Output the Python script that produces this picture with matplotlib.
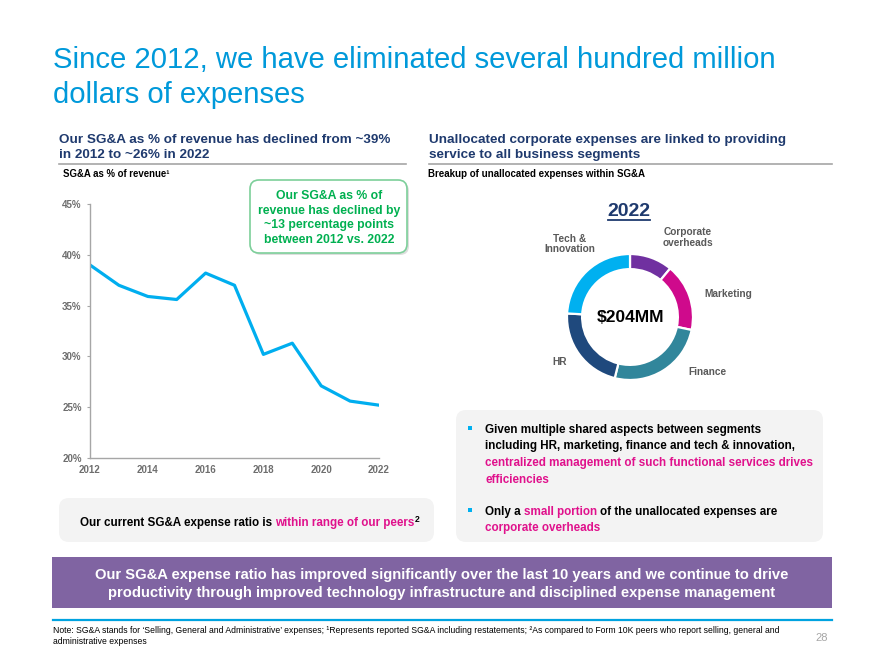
import matplotlib
matplotlib.use('Agg')
import matplotlib.pyplot as plt
from matplotlib.patches import FancyBboxPatch, Rectangle

plt.rcParams['font.family'] = ['Liberation Sans', 'DejaVu Sans']

# 数据
years = [2012, 2013, 2014, 2015, 2016, 2017, 2018, 2019, 2020, 2021, 2022]
sga_pct = [39.0, 37.0, 35.9, 35.6, 38.2, 37.0, 30.2, 31.3, 27.1, 25.6, 25.2]
y_ticks = [20, 25, 30, 35, 40, 45]
x_ticks = [2012, 2014, 2016, 2018, 2020, 2022]

segments = ['Corporate\noverheads', 'Marketing', 'Finance', 'HR', 'Tech &\nInnovation']
segment_share = [11.0, 17.3, 25.6, 22.0, 24.1]
segment_colors = ['#7030A0', '#CF0A8C', '#31869B', '#1F497D', '#00B0F0']
total_label = r'\$204MM'
donut_year = '2022'

BLUE = '#0099DA'
NAVY = '#1F3A6E'
GREEN = '#00B050'
MAGENTA = '#E0118C'
GRAY_TXT = '#6E6E6E'
BLACK = '#000000'

W, H = 880, 660
fig = plt.figure(figsize=(W / 100, H / 100), dpi=100)


def px_axes(left, top, width, height):
    return fig.add_axes([left / W, 1 - (top + height) / H, width / W, height / H])


# 覆盖层，像素坐标
ov = fig.add_axes([0, 0, 1, 1])
ov.set_xlim(0, W)
ov.set_ylim(H, 0)
ov.axis('off')
ov.set_zorder(10)


def rich_line(x, y, parts, size, weight='bold'):
    """按顺序绘制多色文本；parts = [(text, color), ...]，片段之间加一个空格。"""
    t = None
    gap = 0.278 * size
    for s, c in parts:
        if t is None:
            t = ov.text(x, y, s, color=c, fontsize=size, fontweight=weight,
                        ha='left', va='baseline')
        else:
            t = ov.annotate(s, xy=(1, 0), xycoords=t, xytext=(gap, 0),
                            textcoords='offset points', ha='left', va='bottom',
                            color=c, fontsize=size, fontweight=weight)
    return t


# 标题
ov.text(53, 68, 'Since 2012, we have eliminated several hundred million',
        color=BLUE, fontsize=21.1, va='baseline')
ov.text(53, 103, 'dollars of expenses', color=BLUE, fontsize=21.1, va='baseline')

# 两栏小标题
HS = 9.7
ov.text(59, 143, 'Our SG&A as % of revenue has declined from ~39%',
        color=NAVY, fontsize=HS, fontweight='bold', va='baseline')
ov.text(59, 158, 'in 2012 to ~26% in 2022',
        color=NAVY, fontsize=HS, fontweight='bold', va='baseline')
ov.text(429, 143, 'Unallocated corporate expenses are linked to providing',
        color=NAVY, fontsize=HS, fontweight='bold', va='baseline')
ov.text(429, 158, 'service to all business segments',
        color=NAVY, fontsize=HS, fontweight='bold', va='baseline')
ov.plot([59, 406], [163.5, 163.5], color='#A6A6A6', lw=1.2)
ov.plot([429, 832], [163.5, 163.5], color='#A6A6A6', lw=1.2)
ov.text(63, 177, 'SG&A as % of revenue\u00b9', color=BLACK, fontsize=6.95,
        fontweight='bold', va='baseline')
ov.text(428, 177, 'Breakup of unallocated expenses within SG&A', color=BLACK,
        fontsize=7.0, fontweight='bold', va='baseline')

# 折线图
ax = px_axes(90, 204, 289, 254)
ax.plot(years, sga_pct, color='#00AEEF', lw=2.3, solid_joinstyle='round')
ax.set_xlim(years[0], years[-1])
ax.set_ylim(y_ticks[0], y_ticks[-1])
ax.set_yticks(y_ticks)
ax.set_yticklabels([f'{v}%' for v in y_ticks])
ax.set_xticks(x_ticks)
ax.set_xticklabels([str(v) for v in x_ticks])
for s in ['top', 'right']:
    ax.spines[s].set_visible(False)
for s in ['left', 'bottom']:
    ax.spines[s].set_color('#A6A6A6')
    ax.spines[s].set_linewidth(1.0)
ax.tick_params(axis='y', length=2.5, width=0.8, color='#A6A6A6', pad=3.5,
               labelsize=7, labelcolor=GRAY_TXT)
ax.tick_params(axis='x', length=0, pad=5, labelsize=7, labelcolor=GRAY_TXT)
for lab in ax.get_xticklabels() + ax.get_yticklabels():
    lab.set_fontweight('bold')
ax.set_facecolor('none')

# 绿色标注框
ov.add_patch(FancyBboxPatch((252, 182), 157, 73,
                            boxstyle='round,pad=0,rounding_size=9',
                            fc='#BFBFBF', ec='none', alpha=0.5, zorder=1))
ov.add_patch(FancyBboxPatch((250, 180), 157, 73,
                            boxstyle='round,pad=0,rounding_size=9',
                            fc='white', ec='#7DCF9A', lw=1.2, zorder=2))
callout = ['Our SG&A as % of', 'revenue has declined by',
           '~13 percentage points', 'between 2012 vs. 2022']
for i, line in enumerate(callout):
    ov.text(329, 199 + i * 14.7, line, color=GREEN, fontsize=8.8,
            fontweight='bold', ha='center', va='baseline', zorder=3)

# 环形图
R_PX = 63
axd = px_axes(630 - R_PX * 1.04, 317 - R_PX * 1.04, R_PX * 2.08, R_PX * 2.08)
axd.pie(segment_share, colors=segment_colors, startangle=90, counterclock=False,
        radius=1, wedgeprops=dict(width=0.24, edgecolor='white', linewidth=1.6))
axd.set_xlim(-1.04, 1.04)
axd.set_ylim(-1.04, 1.04)
axd.set_aspect('equal')
axd.axis('off')
axd.text(0, 0, total_label, ha='center', va='center', fontsize=12.5,
         fontweight='bold', color=BLACK)

ov.text(629, 216, donut_year, color=NAVY, fontsize=14, fontweight='bold',
        ha='center', va='baseline')
ov.plot([608, 650], [220, 220], color=NAVY, lw=1.3)

label_pos = [(688, 235), (728, 297), (707, 375), (560, 365), (570, 242)]
for name, (lx, ly) in zip(segments, label_pos):
    for j, part in enumerate(name.split('\n')):
        ov.text(lx, ly + j * 10.5, part, color='#595959', fontsize=7.3,
                fontweight='bold', ha='center', va='baseline')

# 右侧要点框
ov.add_patch(FancyBboxPatch((456, 410), 367, 132,
                            boxstyle='round,pad=0,rounding_size=10',
                            fc='#F3F3F3', ec='none', zorder=0))
ov.add_patch(Rectangle((468, 426), 4, 4, fc='#00B0F0', ec='none'))
ov.add_patch(Rectangle((468, 508), 4, 4, fc='#00B0F0', ec='none'))
BS = 8.4
rich_line(485, 432.5, [('Given multiple shared aspects between segments', BLACK)], BS)
rich_line(485, 449, [('including HR, marketing, finance and tech & innovation,', BLACK)], BS)
rich_line(485, 466, [('centralized management of such functional services drives', MAGENTA)], BS)
rich_line(485, 483, [('efficiencies', MAGENTA)], BS)
rich_line(485, 514.5, [('Only a', BLACK), ('small portion', MAGENTA),
                       ('of the unallocated expenses are', BLACK)], BS)
rich_line(485, 531, [('corporate overheads', MAGENTA)], BS)

# 左下框
ov.add_patch(FancyBboxPatch((59, 498), 375, 44,
                            boxstyle='round,pad=0,rounding_size=10',
                            fc='#F3F3F3', ec='none', zorder=0))
t = rich_line(80, 526, [('Our current SG&A expense ratio is', BLACK),
                        ('within range of our peers', MAGENTA)], BS)
ov.annotate('2', xy=(1, 0.45), xycoords=t, xytext=(0.2, 0),
            textcoords='offset points', ha='left', va='bottom',
            color=BLACK, fontsize=6.2, fontweight='bold')

# 紫色横幅
BN = 10.65
ov.add_patch(Rectangle((52, 557), 780, 51, fc='#8064A2', ec='none'))
ov.text(442, 579.5, 'Our SG&A expense ratio has improved significantly over the last 10 years and we continue to drive',
        color='white', fontsize=BN, fontweight='bold', ha='center', va='baseline')
ov.text(442, 596.5, 'productivity through improved technology infrastructure and disciplined expense management',
        color='white', fontsize=BN, fontweight='bold', ha='center', va='baseline')

# 脚注
ov.plot([53, 832], [620, 620], color='#00A3E0', lw=1.6)
ov.text(53, 633, 'Note: SG&A stands for \u2018Selling, General and Administrative\u2019 expenses; '
        '\u00b9Represents reported SG&A including restatements; '
        '\u00b2As compared to Form 10K peers who report selling, general and',
        color=BLACK, fontsize=6.2, va='baseline')
ov.text(53, 644, 'administrative expenses', color=BLACK, fontsize=6.2, va='baseline')
ov.text(822, 641, '28', color='#A6A6A6', fontsize=8, ha='center', va='baseline')

fig.savefig('out.png', dpi=100)
